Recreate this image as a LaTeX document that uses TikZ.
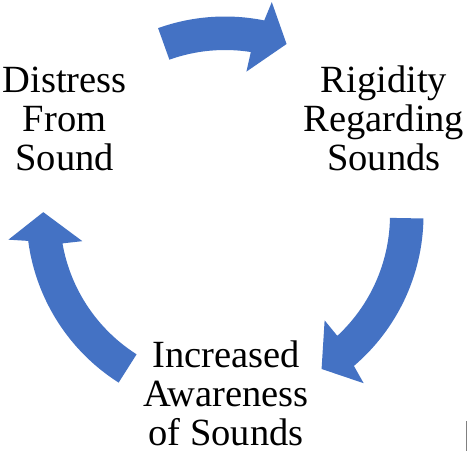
\documentclass[tikz,border=0pt]{standalone}
\usepackage{fontspec}
\setmainfont{Liberation Serif}
\definecolor{cycleblue}{HTML}{4472C4}
\definecolor{edgegrey}{HTML}{808080}
\begin{document}
\begin{tikzpicture}[x=1pt,y=1pt,
  cyclelabel/.style={font=\fontsize{38.5}{39}\selectfont, align=center, inner sep=0pt, text=black, anchor=base},
  cyclearrow/.style={fill=cycleblue}]
\useasboundingbox (0,0) rectangle (468,-463);
\fill[white] (0,0) rectangle (468,-463);
% circular arrows, all on one circle centred at (225,-215)
\begin{scope}[shift={(225,-215)}]
\foreach \tail/\tip in {109.7/70.2, -1/-57.9, 237.6/179.1}{
  \fill[cyclearrow] ({\tail}:198.5pt)
    arc[start angle=\tail, end angle={\tip+8.4}, radius=198.5pt]
    -- ({\tip+7.4}:218pt) -- ({\tip}:181.75pt) -- ({\tip+11.3}:145pt)
    -- ({\tip+10.8}:165pt)
    arc[start angle={\tip+10.8}, end angle=\tail, radius=165pt] -- cycle;
}
\end{scope}
% anchor=base is the baseline of the last line
\node[cyclelabel] (distress) at (64.7,-170.8) {Distress\\From\\Sound};
\node[cyclelabel] (rigidity) at (384,-170.8) {Rigidity\\Regarding\\Sounds};
\node[cyclelabel] (awareness) at (226,-445.3) {Increased\\Awareness\\of Sounds};
\coordinate (marktop) at (466.7,-421);
\coordinate (markbot) at (466.7,-451);
\draw[edgegrey, line width=1pt] (marktop) -- (markbot);
\end{tikzpicture}
\end{document}
